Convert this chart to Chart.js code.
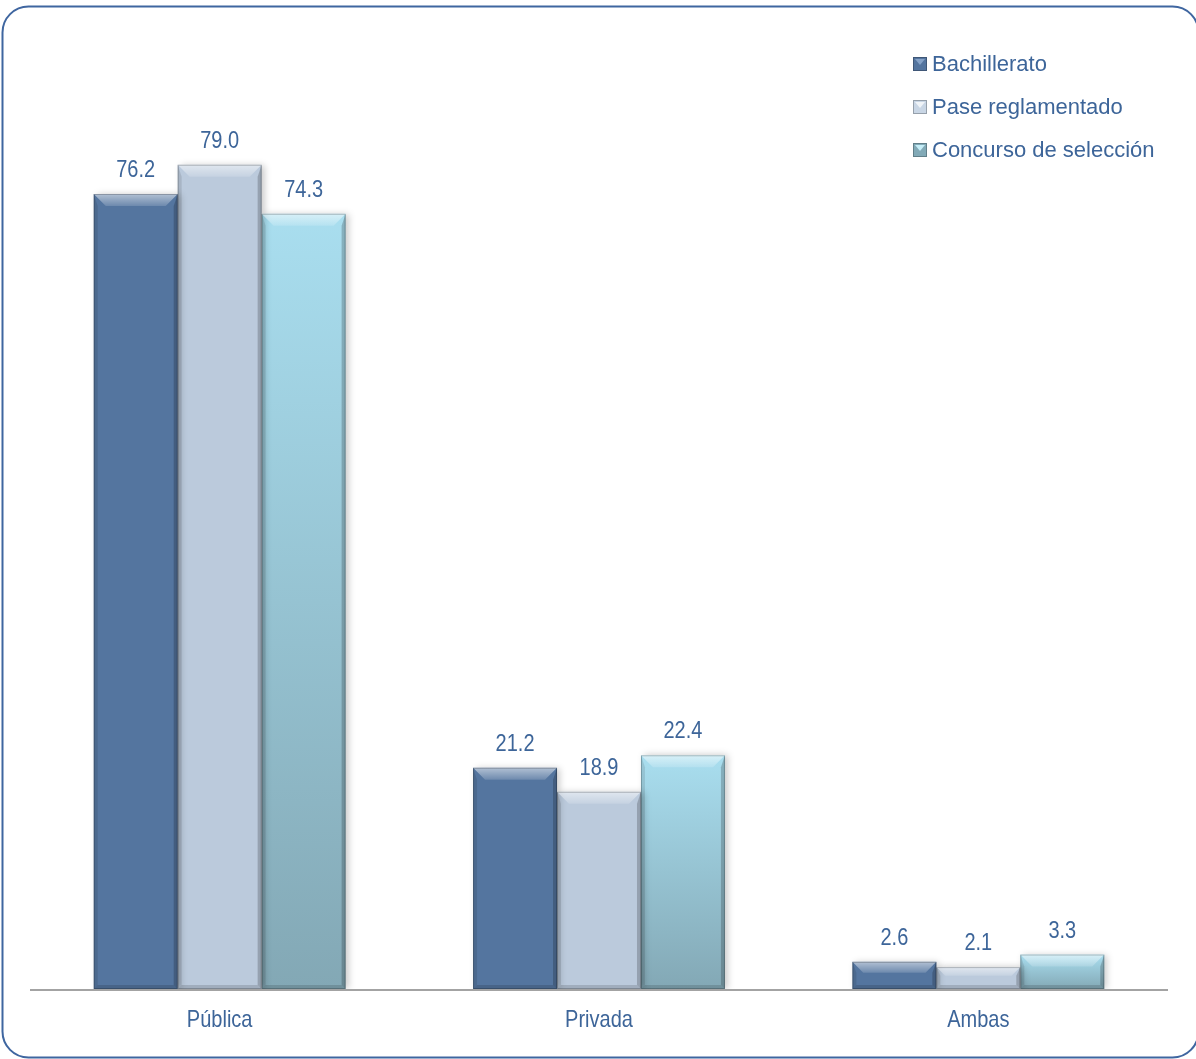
<!DOCTYPE html>
<html>
<head>
<meta charset="utf-8">
<script src="https://cdn.jsdelivr.net/npm/chart.js@4/dist/chart.umd.min.js"></script>
<style>
  html, body { margin: 0; padding: 0; background: #ffffff; }
  canvas { display: block; }
</style>
</head>
<body>
<canvas id="canvas__origen" width="1196" height="1059"></canvas>
<script>
"use strict"

// categories (tipo de escuela) and the three series
const arrCategories = ["Pública", "Privada", "Ambas"];
const arrSeriesNames = ["Bachillerato", "Pase reglamentado", "Concurso de selección"];
const arrBachillerato = [76.2, 21.2, 2.6];
const arrPase = [79.0, 18.9, 2.1];
const arrConcurso = [74.3, 22.4, 3.3];

const COLOR_TEXT = "#3D6599";
const FONT_FAMILY = '"Liberation Sans", Arial, sans-serif';

// the text of the original looks stretched vertically
function drawStretchedText(ctx, strText, x, y, intSize, fltStretch){
    ctx.save();
    ctx.translate(x, y);
    ctx.scale(1, fltStretch);
    ctx.font = intSize + "px " + FONT_FAMILY;
    ctx.textAlign = "center";
    ctx.textBaseline = "alphabetic";
    ctx.fillStyle = COLOR_TEXT;
    ctx.fillText(strText, 0, 0);
    ctx.restore();
}

// gradient for the light blue bars, one per bar
function concursoFill(context){
    var chart = context.chart;
    if(!chart.chartArea || context.type !== "data"){
        return "#98C6D6";
    }
    var top = chart.scales.y.getPixelForValue(context.raw);
    var bottom = chart.scales.y.getPixelForValue(0);
    var grad = chart.ctx.createLinearGradient(0, top, 0, bottom);
    grad.addColorStop(0, "#A9DEEF");
    grad.addColorStop(1, "#83A8B5");
    return grad;
}

// draws a beveled look on a bar
function drawBevel(ctx, left, right, top, bottom){
    var h = bottom - top;
    var b = Math.min(12, h * 0.4);
    var s = 4;
    ctx.save();
    // top bevel
    var g = ctx.createLinearGradient(0, top, 0, top + b);
    g.addColorStop(0, "rgba(255,255,255,0.55)");
    g.addColorStop(1, "rgba(255,255,255,0.15)");
    ctx.fillStyle = g;
    ctx.beginPath();
    ctx.moveTo(left, top);
    ctx.lineTo(right, top);
    ctx.lineTo(right - b, top + b);
    ctx.lineTo(left + b, top + b);
    ctx.closePath();
    ctx.fill();
    // left side
    ctx.fillStyle = "rgba(0,0,0,0.10)";
    ctx.beginPath();
    ctx.moveTo(left, top);
    ctx.lineTo(left + s, top + b);
    ctx.lineTo(left + s, bottom - s);
    ctx.lineTo(left, bottom);
    ctx.closePath();
    ctx.fill();
    // right side
    ctx.fillStyle = "rgba(0,0,0,0.20)";
    ctx.beginPath();
    ctx.moveTo(right, top);
    ctx.lineTo(right - s, top + b);
    ctx.lineTo(right - s, bottom - s);
    ctx.lineTo(right, bottom);
    ctx.closePath();
    ctx.fill();
    // bottom
    ctx.fillStyle = "rgba(0,0,0,0.14)";
    ctx.beginPath();
    ctx.moveTo(left, bottom);
    ctx.lineTo(left + s, bottom - s);
    ctx.lineTo(right - s, bottom - s);
    ctx.lineTo(right, bottom);
    ctx.closePath();
    ctx.fill();
    // outline
    ctx.strokeStyle = "rgba(0,0,0,0.22)";
    ctx.lineWidth = 1;
    ctx.strokeRect(left + 0.5, top + 0.5, right - left - 1, bottom - top - 1);
    ctx.restore();
}

const decorPlugin = {
    id: "decor",
    beforeDraw: function(chart){
        var ctx = chart.ctx;
        ctx.save();
        ctx.fillStyle = "#ffffff";
        ctx.fillRect(0, 0, chart.width, chart.height);
        ctx.restore();
    },
    beforeDatasetsDraw: function(chart){
        var ctx = chart.ctx;
        ctx.save();
        ctx.shadowColor = "rgba(0,0,0,0.22)";
        ctx.shadowBlur = 7;
        ctx.shadowOffsetX = 3;
        ctx.shadowOffsetY = 0;
    },
    afterDatasetsDraw: function(chart){
        var ctx = chart.ctx;
        ctx.restore();
        var area = chart.chartArea;

        // bevels and value labels
        chart.data.datasets.forEach(function(ds, i){
            var meta = chart.getDatasetMeta(i);
            meta.data.forEach(function(bar, j){
                var p = bar.getProps(["x", "y", "base", "width"], true);
                drawBevel(ctx, p.x - p.width / 2, p.x + p.width / 2, p.y, p.base);
                drawStretchedText(ctx, ds.data[j].toFixed(1), p.x, p.y - 17, 20, 1.24);
            });
        });

        // category axis line
        ctx.save();
        ctx.strokeStyle = "#A3A3A3";
        ctx.lineWidth = 2;
        ctx.beginPath();
        ctx.moveTo(area.left, area.bottom + 1);
        ctx.lineTo(area.right, area.bottom + 1);
        ctx.stroke();
        ctx.restore();

        // category labels
        var xScale = chart.scales.x;
        chart.data.labels.forEach(function(lbl, j){
            drawStretchedText(ctx, lbl, xScale.getPixelForTick(j), area.bottom + 38, 20, 1.2);
        });

        // legend, top right inside the plot
        var arrMarker = ["#54759F", "#C9D6E5", "#82AAB7"];
        var arrMarkerLight = ["#86A3C8", "#F0F4F8", "#C6EEF8"];
        chart.data.datasets.forEach(function(ds, i){
            var baseY = 71 + i * 43;
            var mx = 913, my = baseY - 14;
            ctx.save();
            ctx.fillStyle = arrMarker[i];
            ctx.fillRect(mx, my, 14, 14);
            ctx.fillStyle = arrMarkerLight[i];
            ctx.beginPath();
            ctx.moveTo(mx + 2, my + 2);
            ctx.lineTo(mx + 12, my + 2);
            ctx.lineTo(mx + 7, my + 8);
            ctx.closePath();
            ctx.fill();
            ctx.strokeStyle = "rgba(0,0,0,0.25)";
            ctx.lineWidth = 1;
            ctx.strokeRect(mx + 0.5, my + 0.5, 13, 13);
            ctx.font = "22px " + FONT_FAMILY;
            ctx.fillStyle = COLOR_TEXT;
            ctx.textAlign = "left";
            ctx.textBaseline = "alphabetic";
            ctx.fillText(ds.label, 932, baseY);
            ctx.restore();
        });
    },
    afterDraw: function(chart){
        // rounded frame around the whole chart, right edge falls just off the picture
        var ctx = chart.ctx;
        ctx.save();
        ctx.strokeStyle = "#3F66A0";
        ctx.lineWidth = 2;
        ctx.beginPath();
        ctx.roundRect(2.5, 6.5, 1196, 1051, 26);
        ctx.stroke();
        ctx.restore();
    }
};

new Chart("canvas__origen", {
    type: "bar",
    data: {
        labels: arrCategories,
        datasets: [
            { label: arrSeriesNames[0], data: arrBachillerato, backgroundColor: "#54759F" },
            { label: arrSeriesNames[1], data: arrPase, backgroundColor: "#BBCADC" },
            { label: arrSeriesNames[2], data: arrConcurso, backgroundColor: concursoFill }
        ]
    },
    plugins: [decorPlugin],
    options: {
        responsive: false,
        animation: false,
        layout: { padding: { left: 30, right: 28, top: 50, bottom: 70 } },
        datasets: {
            bar: { categoryPercentage: 0.664, barPercentage: 1.0, borderWidth: 0 }
        },
        plugins: {
            legend: { display: false },
            tooltip: { enabled: false }
        },
        scales: {
            x: { display: false },
            y: { display: false, min: 0, max: 90 }
        }
    }
});
</script>
</body>
</html>
